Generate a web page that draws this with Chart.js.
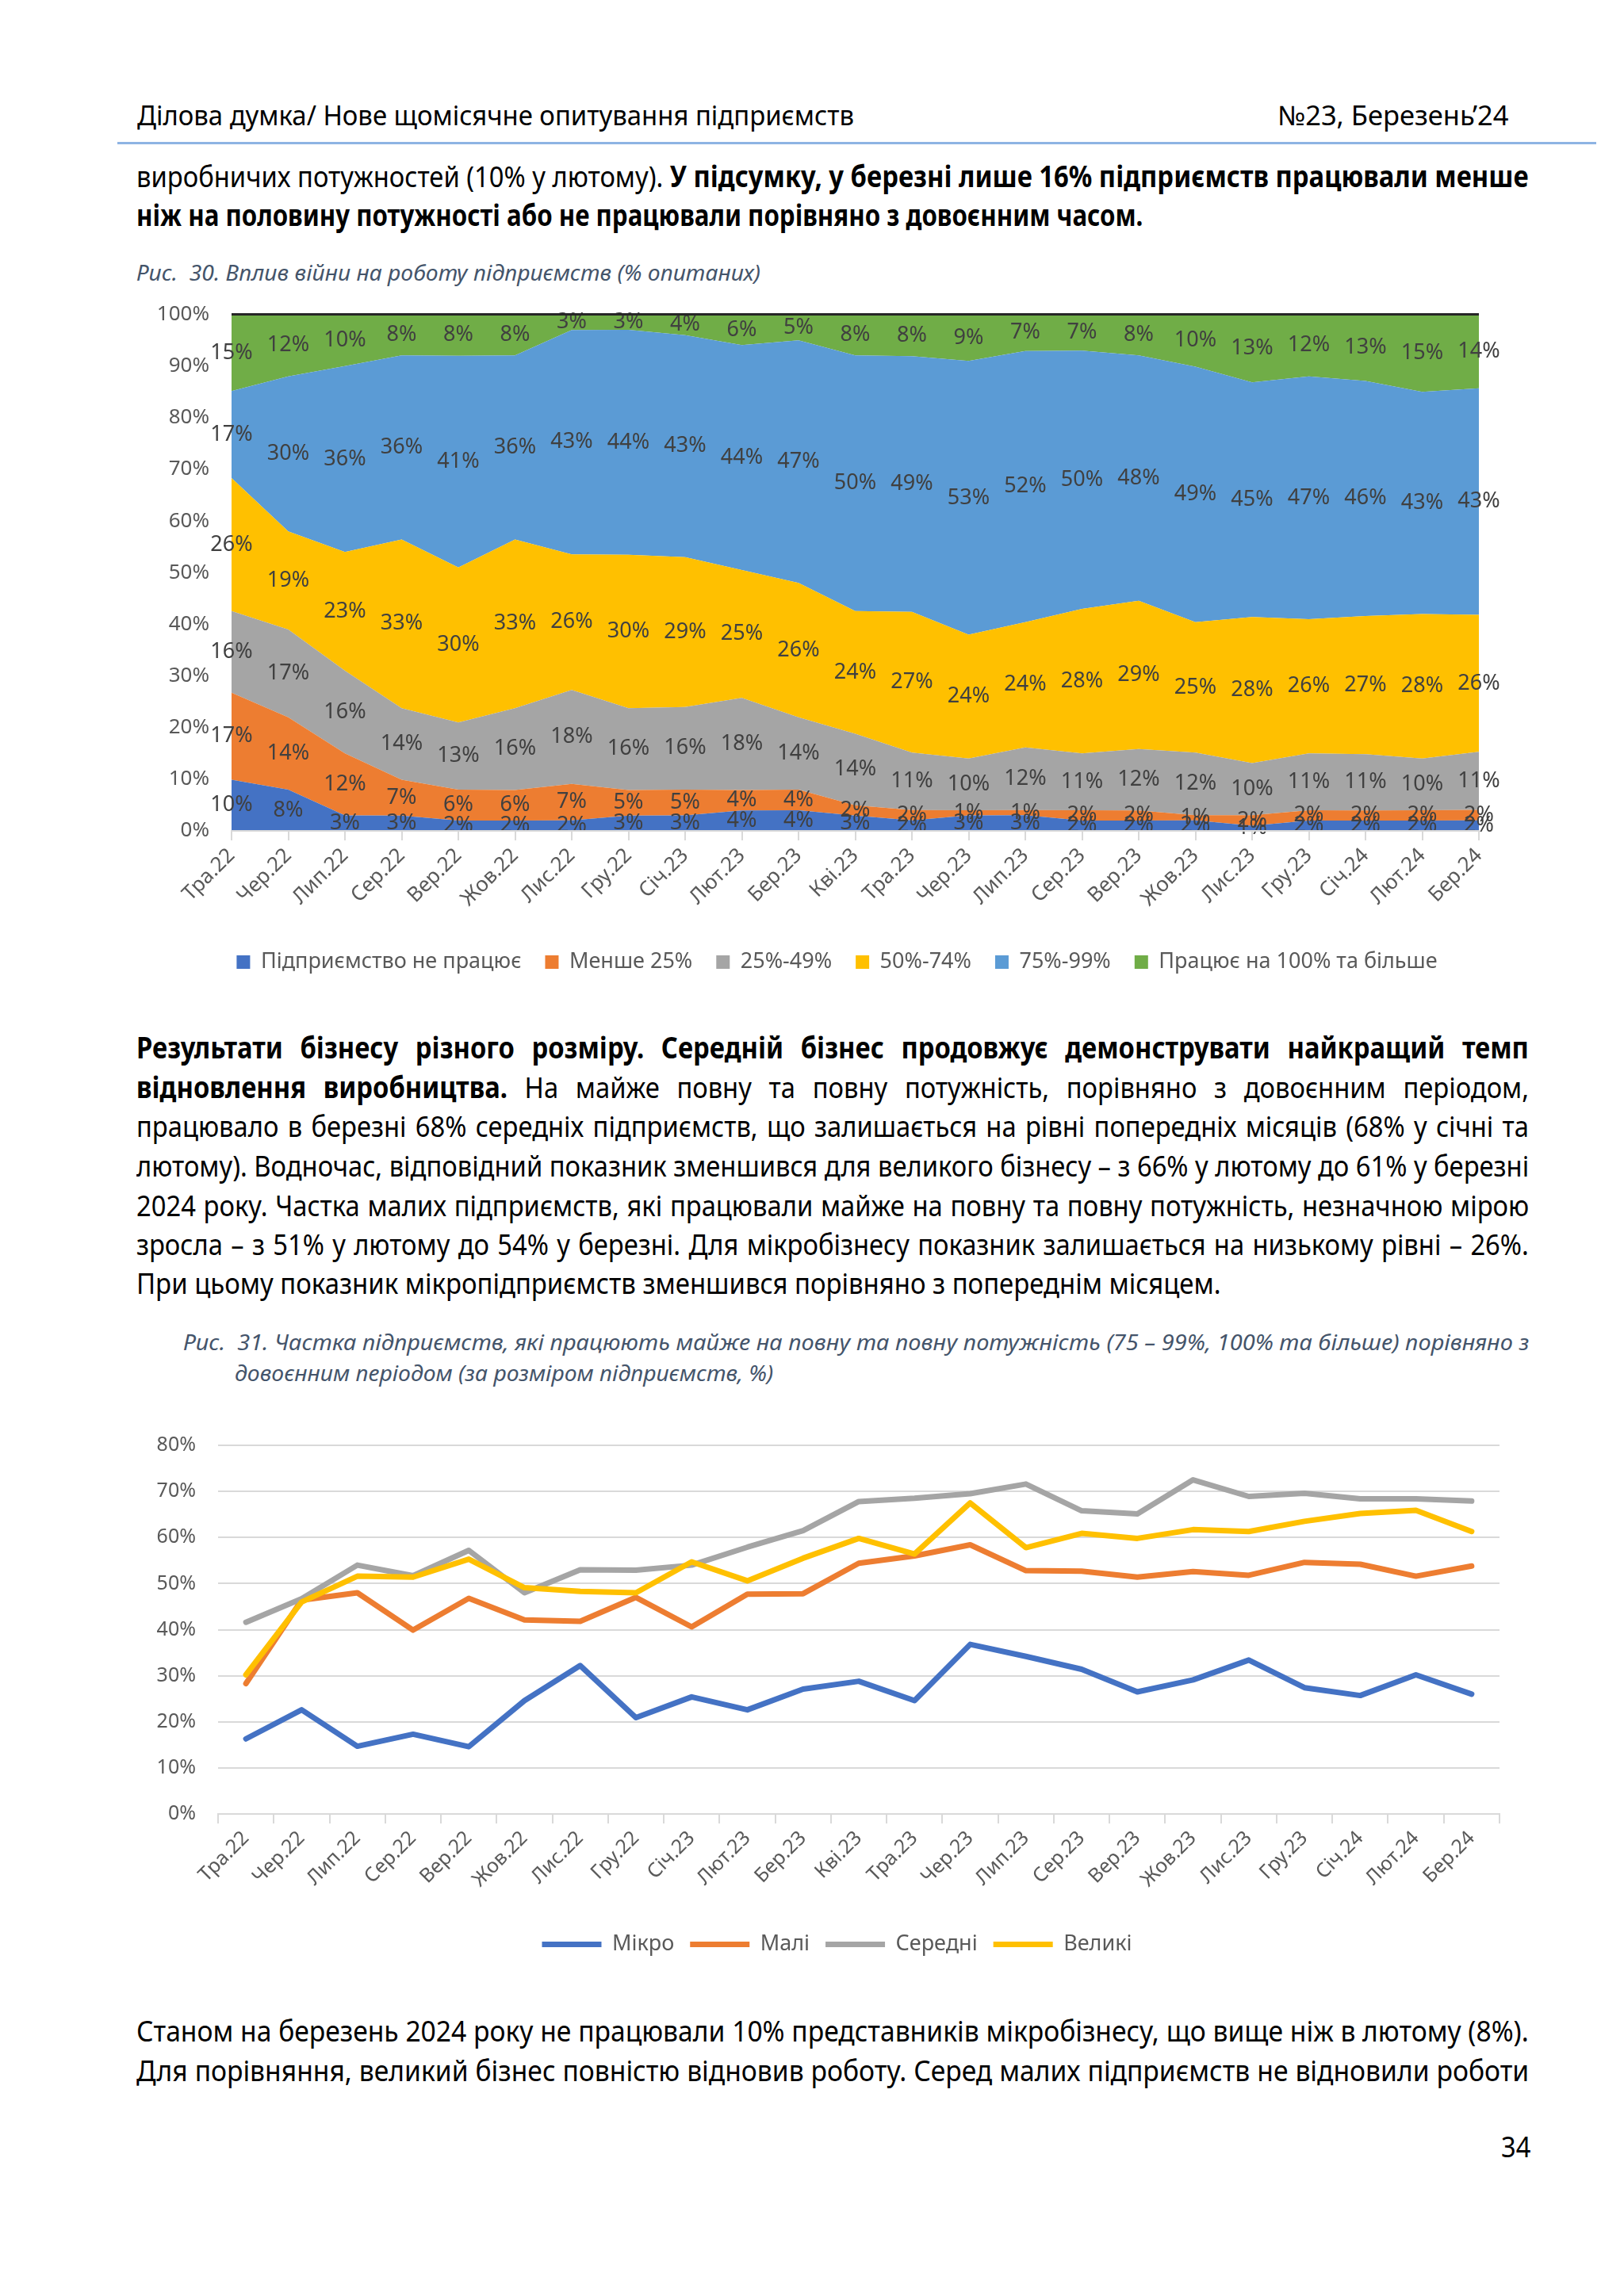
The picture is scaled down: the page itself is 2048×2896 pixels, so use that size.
<!DOCTYPE html>
<html lang="uk">
<head>
<meta charset="utf-8">
<title>Ділова думка — Рис. 30, 31</title>
<script src="https://cdn.jsdelivr.net/npm/chart.js@4.4.1/dist/chart.umd.min.js"></script>
<style>
  html, body { margin: 0; padding: 0; background: #fff; }
  body { width: 2048px; height: 2896px; position: relative; overflow: hidden;
         font-family: "Noto Sans", sans-serif; color: #000; }
  .ln { position: absolute; white-space: nowrap; transform-origin: 0 50%; line-height: 1; }
  .body { font-size: 37px; }
  .hdr { font-size: 34px; }
  .cap { font-size: 28px; font-style: italic; color: #44546A; }
  .rule { position: absolute; left: 148px; top: 179px; width: 1865px; height: 3px; background: #8EB4E3; }
  .chart { position: absolute; left: 150px; width: 1790px; }
  #c1 { top: 353px; height: 897px; }
  #c2 { top: 1780px; height: 730px; }
</style>
</head>
<body>

<div class="ln hdr" data-x="173" data-y="145" data-w="904">Ділова думка/ Нове щомісячне опитування підприємств</div>
<div class="ln hdr" data-x="1611" data-y="145" data-w="291">№23, Березень’24</div>
<div class="rule"></div>

<div class="ln body" data-p="p1" data-j="1" data-x="172" data-y="221" data-w="1756">виробничих потужностей (10% у лютому). <b>У підсумку, у березні лише 16% підприємств працювали менше</b></div>
<div class="ln body" data-p="p1" data-x="172" data-y="270" data-w="1269"><b>ніж на половину потужності або не працювали порівняно з довоєнним часом.</b></div>

<div class="ln cap" data-x="172" data-y="343" data-w="787">Рис.&nbsp; 30. Вплив війни на роботу підприємств (% опитаних)</div>

<div class="chart" id="c1"><canvas id="chart1"></canvas></div>

<div class="ln body" data-p="p2" data-j="1" data-x="172" data-y="1320" data-w="1756"><b>Результати бізнесу різного розміру. Середній бізнес продовжує демонструвати найкращий темп</b></div>
<div class="ln body" data-p="p2" data-j="1" data-x="172" data-y="1370" data-w="1756"><b>відновлення виробництва.</b> На майже повну та повну потужність, порівняно з довоєнним періодом,</div>
<div class="ln body" data-p="p2" data-j="1" data-x="172" data-y="1419" data-w="1756">працювало в березні 68% середніх підприємств, що залишається на рівні попередніх місяців (68% у січні та</div>
<div class="ln body" data-p="p2" data-j="1" data-x="172" data-y="1469" data-w="1756">лютому). Водночас, відповідний показник зменшився для великого бізнесу – з 66% у лютому до 61% у березні</div>
<div class="ln body" data-p="p2" data-j="1" data-x="172" data-y="1519" data-w="1756">2024 року. Частка малих підприємств, які працювали майже на повну та повну потужність, незначною мірою</div>
<div class="ln body" data-p="p2" data-j="1" data-x="172" data-y="1568" data-w="1756">зросла – з 51% у лютому до 54% у березні. Для мікробізнесу показник залишається на низькому рівні – 26%.</div>
<div class="ln body" data-p="p2" data-x="172" data-y="1617" data-w="1368">При цьому показник мікропідприємств зменшився порівняно з попереднім місяцем.</div>

<div class="ln cap" data-p="c31" data-j="1" data-x="231" data-y="1692" data-w="1697">Рис.&nbsp; 31. Частка підприємств, які працюють майже на повну та повну потужність (75 – 99%, 100% та більше) порівняно з</div>
<div class="ln cap" data-p="c31" data-x="296" data-y="1731" data-w="679">довоєнним періодом (за розміром підприємств, %)</div>

<div class="chart" id="c2"><canvas id="chart2"></canvas></div>

<div class="ln body" data-p="p3" data-j="1" data-x="172" data-y="2560" data-w="1756">Станом на березень 2024 року не працювали 10% представників мікробізнесу, що вище ніж в лютому (8%).</div>
<div class="ln body" data-p="p3" data-j="1" data-x="172" data-y="2610" data-w="1756">Для порівняння, великий бізнес повністю відновив роботу. Серед малих підприємств не відновили роботи</div>

<div class="ln body" data-x="1893" data-y="2706" data-w="37">34</div>

<script>
// --- Рис. 30: вплив війни на роботу підприємств (% опитаних) ---
const months = ['Тра.22', 'Чер.22', 'Лип.22', 'Сер.22', 'Вер.22', 'Жов.22', 'Лис.22', 'Гру.22',
                'Січ.23', 'Лют.23', 'Бер.23', 'Кві.23', 'Тра.23', 'Чер.23', 'Лип.23', 'Сер.23',
                'Вер.23', 'Жов.23', 'Лис.23', 'Гру.23', 'Січ.24', 'Лют.24', 'Бер.24'];

const notWorking = [10, 8, 3, 3, 2, 2, 2, 3, 3, 4, 4, 3, 2, 3, 3, 2, 2, 2, 1, 2, 2, 2, 2];
const under25    = [17, 14, 12, 7, 6, 6, 7, 5, 5, 4, 4, 2, 2, 1, 1, 2, 2, 1, 2, 2, 2, 2, 2];
const from25to49 = [16, 17, 16, 14, 13, 16, 18, 16, 16, 18, 14, 14, 11, 10, 12, 11, 12, 12, 10, 11, 11, 10, 11];
const from50to74 = [26, 19, 23, 33, 30, 33, 26, 30, 29, 25, 26, 24, 27, 24, 24, 28, 29, 25, 28, 26, 27, 28, 26];
const from75to99 = [17, 30, 36, 36, 41, 36, 43, 44, 43, 44, 47, 50, 49, 53, 52, 50, 48, 49, 45, 47, 46, 43, 43];
const full100    = [15, 12, 10, 8, 8, 8, 3, 3, 4, 6, 5, 8, 8, 9, 7, 7, 8, 10, 13, 12, 13, 15, 14];

const bandNames  = ['Підприємство не працює', 'Менше 25%', '25%-49%', '50%-74%', '75%-99%', 'Працює на 100% та більше'];
const bandColors = ['#4472C4', '#ED7D31', '#A5A5A5', '#FFC000', '#5B9BD5', '#70AD47'];
const bands = [notWorking, under25, from25to49, from50to74, from75to99, full100];

// --- Рис. 31: частка підприємств на (майже) повній потужності, за розміром (%) ---
const micro  = [16.3, 22.6, 14.7, 17.3, 14.6, 24.6, 32.2, 20.9, 25.4, 22.6, 27.1, 28.8,
                24.6, 36.8, 34.2, 31.4, 26.5, 29.1, 33.4, 27.4, 25.7, 30.2, 26.0];
const small  = [28.3, 46.4, 48.0, 39.9, 46.8, 42.1, 41.8, 47.0, 40.6, 47.7, 47.8, 54.4,
                56.0, 58.4, 52.8, 52.7, 51.4, 52.6, 51.8, 54.6, 54.2, 51.6, 53.8];
const medium = [41.6, 46.7, 54.0, 51.7, 57.2, 48.0, 53.0, 52.9, 54.0, 57.9, 61.5, 67.8,
                68.5, 69.5, 71.6, 65.8, 65.1, 72.5, 68.9, 69.6, 68.4, 68.4, 67.9];
const large  = [30.2, 46.0, 51.6, 51.4, 55.3, 49.1, 48.3, 48.0, 54.7, 50.6, 55.5, 59.8,
                56.4, 67.5, 57.8, 60.9, 59.8, 61.7, 61.3, 63.5, 65.2, 65.9, 61.3];

const sizeNames  = ['Мікро', 'Малі', 'Середні', 'Великі'];
const sizeColors = ['#4472C4', '#ED7D31', '#A5A5A5', '#FFC000'];
const sizes = [micro, small, medium, large];

Chart.defaults.font.family = "'Noto Sans', sans-serif";
Chart.defaults.color = '#595959';

// 100% stacked: each month scaled so the bands add up to 100
const totals = months.map((m, j) => bands.reduce((s, b) => s + b[j], 0));
const shares = bands.map(b => b.map((v, j) => v * 100 / totals[j]));

// labels in the middle of each band, like the Excel data labels
const bandLabels = {
    id: 'bandLabels',
    afterDatasetsDraw(chart) {
        const ctx = chart.ctx;
        const x = chart.scales.x, y = chart.scales.y;
        ctx.save();
        ctx.font = "27px 'Noto Sans', sans-serif";
        ctx.fillStyle = '#404040';
        ctx.textAlign = 'center';
        ctx.textBaseline = 'middle';
        for (let j = 0; j < months.length; j++) {
            let base = 0;
            for (let i = 0; i < bands.length; i++) {
                const mid = base + shares[i][j] / 2;
                base += shares[i][j];
                ctx.fillText(bands[i][j] + '%', x.getPixelForValue(j), y.getPixelForValue(mid));
            }
        }
        ctx.restore();
    }
};

// Excel centres the legend on the whole chart frame, a bit right of Chart.js
const legendShift = {
    id: 'legendShift',
    afterLayout(chart, args, opts) {
        chart.legend.left += opts.dx;
        chart.legend.right += opts.dx;
    }
};

function createChart1() {
    const datasets = bands.map((b, i) => ({
        label: bandNames[i],
        data: shares[i],
        backgroundColor: bandColors[i],
        borderColor: bandColors[i],
        borderWidth: 0,
        pointRadius: 0,
        fill: i === 0 ? 'origin' : '-1',
        tension: 0
    }));
    return new Chart(document.getElementById('chart1'), {
        type: 'line',
        data: { labels: months, datasets: datasets },
        plugins: [bandLabels, legendShift],
        options: {
            responsive: true,
            maintainAspectRatio: false,
            animation: false,
            layout: { padding: { top: 27, right: 75, bottom: 13, left: 0 } },
            plugins: {
                legendShift: { dx: 48 },
                legend: {
                    position: 'bottom',
                    labels: { boxWidth: 17, boxHeight: 17, padding: 30, color: '#595959', font: { size: 27 } }
                },
                tooltip: { enabled: false }
            },
            scales: {
                x: {
                    offset: false,
                    afterFit: (scale) => { scale.height = 122; },
                    grid: { drawOnChartArea: false, drawTicks: true, tickLength: 12, color: '#D9D9D9', lineWidth: 2 },
                    border: { display: true, color: '#D9D9D9', width: 2, z: 1 },
                    ticks: { autoSkip: false, maxRotation: 45, minRotation: 45, padding: 4, color: '#595959', font: { size: 26 } }
                },
                y: {
                    stacked: true,
                    min: 0,
                    max: 100,
                    afterFit: (scale) => { scale.width = 142; },
                    grid: {
                        drawTicks: false,
                        z: 1,
                        lineWidth: 3,
                        color: (c) => (c.tick && c.tick.value === 100 ? '#262626' : 'rgba(0,0,0,0)')
                    },
                    border: { display: false },
                    ticks: { stepSize: 10, padding: 28, color: '#595959', font: { size: 26 },
                             callback: (v) => v + '%' }
                }
            }
        }
    });
}

function createChart2() {
    const datasets = sizes.map((s, i) => ({
        label: sizeNames[i],
        data: s,
        borderColor: sizeColors[i],
        backgroundColor: sizeColors[i],
        borderWidth: 7,
        borderCapStyle: 'round',
        borderJoinStyle: 'round',
        pointRadius: 0,
        fill: false,
        tension: 0,
        order: sizes.length - 1 - i   // Великі on top
    }));
    return new Chart(document.getElementById('chart2'), {
        type: 'line',
        data: { labels: months, datasets: datasets },
        plugins: [legendShift],
        options: {
            responsive: true,
            maintainAspectRatio: false,
            animation: false,
            layout: { padding: { top: 40, right: 49, bottom: 34, left: 0 } },
            plugins: {
                legendShift: { dx: 35 },
                legend: {
                    position: 'bottom',
                    labels: { usePointStyle: true, pointStyle: 'line', pointStyleWidth: 75, boxHeight: 27,
                              padding: 20, color: '#595959', font: { size: 27 },
                              sort: (a, b) => a.datasetIndex - b.datasetIndex }
                },
                tooltip: { enabled: false }
            },
            scales: {
                x: {
                    offset: true,
                    afterFit: (scale) => { scale.height = 131; },
                    grid: { offset: true, drawOnChartArea: false, drawTicks: true, tickLength: 12, color: '#D9D9D9', lineWidth: 2 },
                    border: { display: true, color: '#D9D9D9', width: 2 },
                    ticks: { autoSkip: false, maxRotation: 45, minRotation: 45, padding: 4, color: '#595959', font: { size: 25 } }
                },
                y: {
                    min: 0,
                    max: 80,
                    afterFit: (scale) => { scale.width = 125; },
                    grid: { drawTicks: false, color: '#D9D9D9', lineWidth: 2 },
                    border: { display: false },
                    ticks: { stepSize: 10, padding: 28, color: '#595959', font: { size: 25 },
                             callback: (v) => v + '%' }
                }
            }
        }
    });
}

// text lines: squeeze to the narrow look of the original and justify
function placeLines() {
    const lines = Array.from(document.querySelectorAll('.ln'));
    const groups = {};
    lines.forEach((el, i) => {
        const g = el.dataset.p || ('single' + i);
        (groups[g] = groups[g] || []).push(el);
    });
    for (const g in groups) {
        const els = groups[g];
        const just = els.filter(e => e.dataset.j);
        const s = just.length ? Math.min(...just.map(e => +e.dataset.w / e.offsetWidth)) : 1;
        for (const el of els) {
            const nat = el.offsetWidth;
            let k = s;
            if (el.dataset.j) {
                const spaces = (el.textContent.match(/ /g) || []).length;
                const extra = +el.dataset.w - nat * k;
                if (spaces > 0) el.style.wordSpacing = (extra / (spaces * k)) + 'px';
            } else if (el.dataset.w) {
                k = +el.dataset.w / nat;
            }
            el.style.left = el.dataset.x + 'px';
            el.style.top = (+el.dataset.y - el.offsetHeight / 2) + 'px';
            el.style.transform = 'scaleX(' + k + ')';
        }
    }
}

placeLines();
const chart1 = createChart1();
const chart2 = createChart2();
</script>
</body>
</html>
